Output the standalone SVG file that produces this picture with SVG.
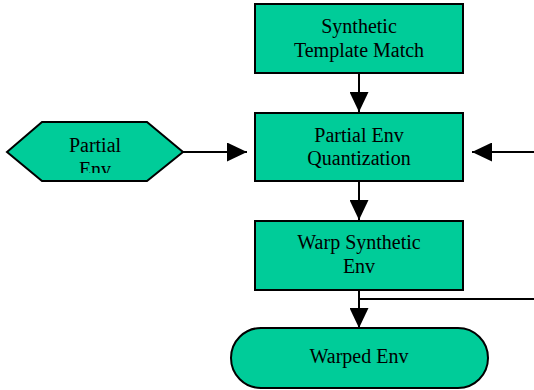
<svg xmlns="http://www.w3.org/2000/svg" width="534" height="390" viewBox="0 0 534 390">
<style>
.n{fill:#00CC99;stroke:#000;stroke-width:2}
.t{font-family:"Liberation Serif","Times New Roman",serif;font-size:20px;fill:#000;text-anchor:middle}
.c{stroke:#000;stroke-width:2;fill:none}
</style>
<defs>
<marker id="ah" markerWidth="20" markerHeight="19" viewBox="0 0 20 19" refX="20" refY="9.5" orient="auto" markerUnits="userSpaceOnUse">
<path d="M0,0 L20,9.5 L0,19 Z" fill="#000"/>
</marker>
<clipPath id="hc"><rect x="0" y="122" width="190" height="51"/></clipPath>
</defs>
<rect width="534" height="390" fill="#fff"/>
<g id="connectors">
<line class="c" x1="359" y1="73" x2="359" y2="112" marker-end="url(#ah)"/>
<line class="c" x1="359" y1="181" x2="359" y2="220" marker-end="url(#ah)"/>
<line class="c" x1="359" y1="290" x2="359" y2="328" marker-end="url(#ah)"/>
<line class="c" x1="359" y1="299" x2="534" y2="299"/>
<line class="c" x1="183" y1="152" x2="247" y2="152" marker-end="url(#ah)"/>
<line class="c" x1="534" y1="152" x2="472" y2="152" marker-end="url(#ah)"/>
</g>
<g id="synthetic-template-match">
<rect class="n" x="255" y="4" width="208" height="69"/>
<text class="t" x="359" y="33">Synthetic</text>
<text class="t" x="359" y="57">Template Match</text>
</g>
<g id="partial-env-quantization">
<rect class="n" x="255" y="113" width="208" height="68"/>
<text class="t" x="359" y="142">Partial Env</text>
<text class="t" x="359" y="165">Quantization</text>
</g>
<g id="warp-synthetic-env">
<rect class="n" x="255" y="221" width="208" height="69"/>
<text class="t" x="359" y="249">Warp Synthetic</text>
<text class="t" x="359" y="273">Env</text>
</g>
<g id="warped-env">
<rect class="n" x="231" y="328" width="257" height="60" rx="30" ry="30"/>
<text class="t" x="359" y="363">Warped Env</text>
</g>
<g id="partial-env">
<polygon class="n" points="7,152 42,122 147,122 183,152 147,181 42,181"/>
<g clip-path="url(#hc)">
<text class="t" x="95" y="152">Partial</text>
<text class="t" x="95" y="176">Env</text>
</g>
</g>
</svg>
